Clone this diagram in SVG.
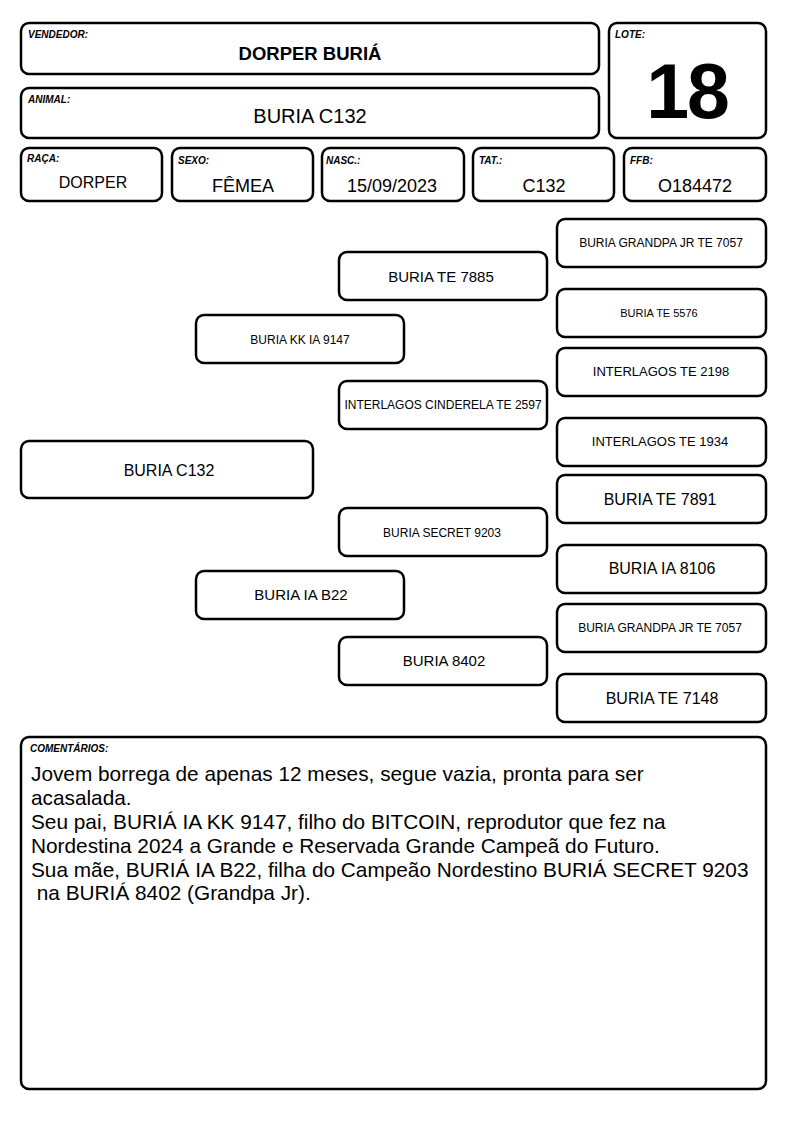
<svg xmlns="http://www.w3.org/2000/svg" width="794" height="1123" viewBox="0 0 794 1123">
<style>
.b{fill:#fff;stroke:#000;stroke-width:2.5}
.l{font-family:"Liberation Sans",Arial,sans-serif;font-size:10px;font-weight:bold;font-style:italic}
.t{font-family:"Liberation Sans",Arial,sans-serif;text-anchor:middle;fill:#000}
.c{font-family:"Liberation Sans",Arial,sans-serif;font-size:20.8px}
</style>
<rect width="794" height="1123" fill="#fff"/>
<g id="vendedor"><rect class="b" x="21" y="23" width="578" height="51" rx="8"/><text class="l" x="28" y="38">VENDEDOR:</text><text class="t" x="310" y="60" font-size="18.5" font-weight="bold">DORPER BURIÁ</text></g>
<g id="animal"><rect class="b" x="21" y="88" width="578" height="50" rx="8"/><text class="l" x="28" y="103">ANIMAL:</text><text class="t" x="310" y="123" font-size="20">BURIA C132</text></g>
<g id="lote"><rect class="b" x="609" y="23" width="157" height="115" rx="8"/><text class="l" x="615" y="38">LOTE:</text><text class="t" x="687" y="118" font-size="77" font-weight="bold" letter-spacing="-2">18</text></g>
<g id="raca"><rect class="b" x="21" y="148" width="141" height="53" rx="8"/><text class="l" x="27" y="162">RAÇA:</text><text class="t" x="93" y="188" font-size="16">DORPER</text></g>
<g id="sexo"><rect class="b" x="172" y="148" width="141" height="53" rx="8"/><text class="l" x="178" y="164">SEXO:</text><text class="t" x="243" y="192" font-size="18">FÊMEA</text></g>
<g id="nasc"><rect class="b" x="322" y="148" width="142" height="53" rx="8"/><text class="l" x="326" y="164">NASC.:</text><text class="t" x="392" y="192" font-size="18">15/09/2023</text></g>
<g id="tat"><rect class="b" x="473" y="148" width="141" height="53" rx="8"/><text class="l" x="479" y="164">TAT.:</text><text class="t" x="544" y="192" font-size="18">C132</text></g>
<g id="ffb"><rect class="b" x="624" y="148" width="142" height="53" rx="8"/><text class="l" x="630" y="164">FFB:</text><text class="t" x="695" y="192" font-size="18">O184472</text></g>
<g id="connectors"></g>
<g id="n-c132"><rect class="b" x="21" y="441" width="292" height="57" rx="8"/><text class="t" x="169" y="476" font-size="16">BURIA C132</text></g>
<g id="n-kk9147"><rect class="b" x="196" y="315" width="208" height="48" rx="8"/><text class="t" x="300" y="344" font-size="12">BURIA KK IA 9147</text></g>
<g id="n-b22"><rect class="b" x="196" y="571" width="208" height="48" rx="8"/><text class="t" x="301" y="600" font-size="15">BURIA IA B22</text></g>
<g id="n-te7885"><rect class="b" x="339" y="252" width="208" height="48" rx="8"/><text class="t" x="441" y="282" font-size="15">BURIA TE 7885</text></g>
<g id="n-cinderela"><rect class="b" x="339" y="381" width="208" height="48" rx="8"/><text class="t" x="443" y="409" font-size="12">INTERLAGOS CINDERELA TE 2597</text></g>
<g id="n-secret"><rect class="b" x="339" y="508" width="208" height="48" rx="8"/><text class="t" x="442" y="537" font-size="12">BURIA SECRET 9203</text></g>
<g id="n-8402"><rect class="b" x="339" y="637" width="208" height="48" rx="8"/><text class="t" x="444" y="666" font-size="15">BURIA 8402</text></g>
<g id="n-gp1"><rect class="b" x="557" y="219" width="209" height="48" rx="8"/><text class="t" x="661" y="247" font-size="12">BURIA GRANDPA JR TE 7057</text></g>
<g id="n-te5576"><rect class="b" x="557" y="289" width="209" height="48" rx="8"/><text class="t" x="659" y="317" font-size="11">BURIA TE 5576</text></g>
<g id="n-te2198"><rect class="b" x="557" y="348" width="209" height="48" rx="8"/><text class="t" x="661" y="376" font-size="13">INTERLAGOS TE 2198</text></g>
<g id="n-te1934"><rect class="b" x="557" y="418" width="209" height="48" rx="8"/><text class="t" x="660" y="446" font-size="13">INTERLAGOS TE 1934</text></g>
<g id="n-te7891"><rect class="b" x="557" y="475" width="209" height="48" rx="8"/><text class="t" x="660" y="505" font-size="16">BURIA TE 7891</text></g>
<g id="n-ia8106"><rect class="b" x="557" y="545" width="209" height="48" rx="8"/><text class="t" x="662" y="574" font-size="16">BURIA IA 8106</text></g>
<g id="n-gp2"><rect class="b" x="557" y="604" width="209" height="48" rx="8"/><text class="t" x="660" y="632" font-size="12">BURIA GRANDPA JR TE 7057</text></g>
<g id="n-te7148"><rect class="b" x="557" y="674" width="209" height="48" rx="8"/><text class="t" x="662" y="704" font-size="16">BURIA TE 7148</text></g>
<g id="comentarios"><rect class="b" x="21" y="737" width="745" height="352" rx="8"/><text class="l" x="30" y="752">COMENTÁRIOS:</text>
<text class="c"><tspan x="31" y="781">Jovem borrega de apenas 12 meses, segue vazia, pronta para ser</tspan><tspan x="31" y="805">acasalada.</tspan><tspan x="31" y="829">Seu pai, BURIÁ IA KK 9147, filho do BITCOIN, reprodutor que fez na</tspan><tspan x="31" y="853">Nordestina 2024 a Grande e Reservada Grande Campeã do Futuro.</tspan><tspan x="31" y="877">Sua mãe, BURIÁ IA B22, filha do Campeão Nordestino BURIÁ SECRET 9203</tspan><tspan x="31" y="900"> na BURIÁ 8402 (Grandpa Jr).</tspan></text></g>
</svg>
